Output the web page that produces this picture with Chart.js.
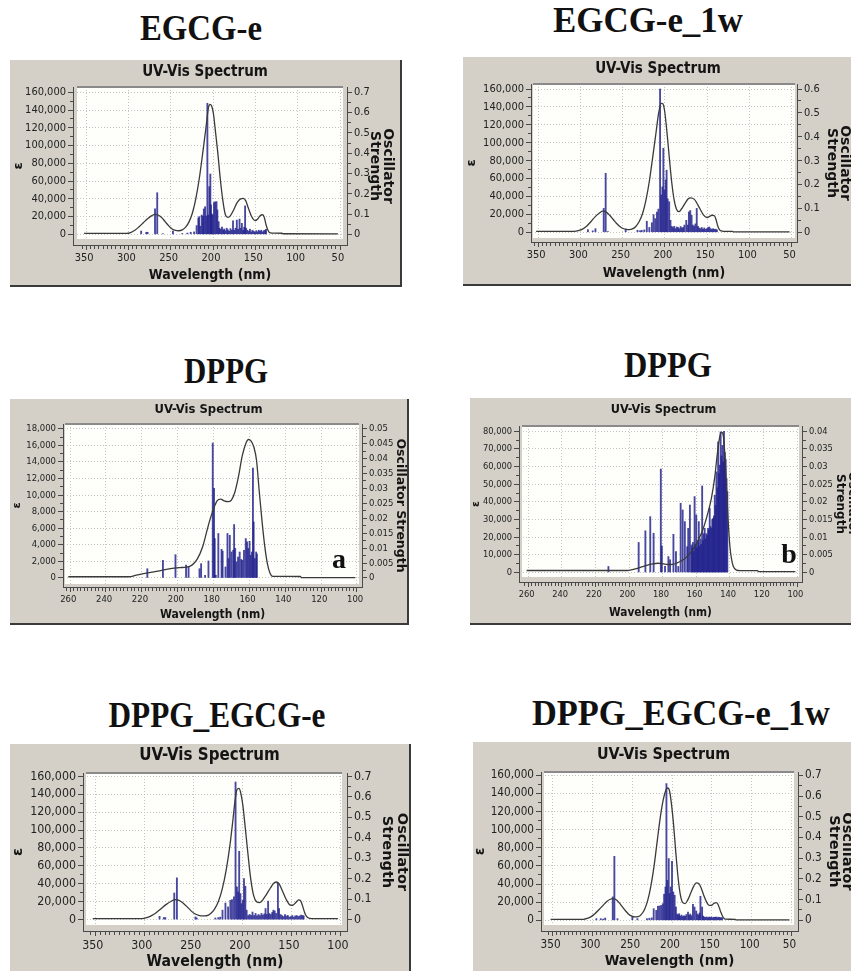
<!DOCTYPE html>
<html><head><meta charset="utf-8">
<script src="https://cdn.jsdelivr.net/npm/chart.js@4.4.1/dist/chart.umd.min.js"></script>
<style>
html,body{margin:0;padding:0;background:#fff;}
body{width:851px;height:971px;position:relative;overflow:hidden;}
.panel{position:absolute;background:#d4d0c8;}
.panel canvas{display:block;}
.head{position:absolute;width:400px;text-align:center;font-family:'Liberation Serif','Times New Roman',serif;font-weight:bold;line-height:1;color:#111;white-space:nowrap;}
.head span{display:inline-block;transform-origin:50% 50%;}
.tag{position:absolute;width:40px;text-align:center;font-family:'Liberation Serif','Times New Roman',serif;font-weight:bold;line-height:1;color:#111;z-index:5;}
</style></head><body>
<script>
// ---------- DATA ----------
// EGCG-e
const egcgE_curveNm  = [350,300,295,290,285,280,275,270,266,262,258,254,250,246,242,238,234,230,226,222,218,214,210,206,203,201,199,197,195,192,189,186,183,180,177,173,169,165,162,159,156,152,148,145,142,139,137,135,133,131,128,116,115,50];
const egcgE_curveEps = [1100,1100,2000,4500,8500,13000,17500,21000,22500,21500,18500,14000,9500,6000,4300,4000,5000,8000,14000,24000,40000,62000,90000,120000,143000,146500,144000,135000,118000,92000,62000,38000,22000,19000,21000,28000,36000,40000,40500,38000,30000,20000,15500,17000,21000,22000,19000,11000,5000,2000,1300,1200,600,500];
const egcgE_sticks = [[282.6,0.016],[276.5,0.01],[275,0.01],[266.2,0.125],[263.6,0.205],[257,0.003],[245,0.016],[234,0.004],[228,0.006],[224,0.01],[220,0.012],[217,0.043],[215,0.08],[214,0.087],[212.5,0.04],[211,0.095],[209.5,0.089],[208.5,0.125],[207,0.136],[205.5,0.09],[204.3,0.646],[203.3,0.095],[202,0.235],[200.8,0.297],[200,0.145],[199,0.1],[198,0.095],[196.5,0.156],[195,0.16],[193.5,0.161],[192.5,0.12],[191,0.062],[190,0.03],[188.5,0.025],[187,0.035],[185.5,0.02],[184.5,0.026],[183,0.018],[181.5,0.03],[180,0.022],[178.5,0.015],[177,0.028],[175.5,0.02],[174,0.066],[172.5,0.02],[171,0.03],[169.5,0.07],[168,0.025],[166.3,0.075],[165,0.03],[163.5,0.054],[162,0.02],[160.8,0.035],[159.7,0.14],[158.5,0.03],[157,0.02],[155.5,0.015],[154,0.025],[152.5,0.012],[151,0.02],[149.5,0.015],[148,0.01],[146.5,0.018],[145,0.012],[143.5,0.02],[142,0.015],[140.5,0.02],[139,0.012],[137.5,0.018],[136,0.02],[135,0.025]];

// EGCG-e_1w
const egcgE1w_curveNm  = [350,305,300,295,290,285,280,275,271,267,263,259,255,251,247,243,240,236,232,228,224,220,216,212,208,205,202,200,198,196,193,190,187,184,181,178,174,170,167,163,160,156,152,148,145,142,139,137,135,133,131,128,118,116,50];
const egcgE1w_curveEps = [1100,1100,1800,3500,7000,12000,17500,21500,23500,22500,19000,14500,10000,6500,4200,3200,3000,3800,6500,12000,21000,36000,57000,84000,112000,133000,144000,143500,136000,120000,90000,60000,38000,26000,23000,26000,32000,37500,38500,37000,33000,26000,19500,16500,17500,19000,18500,14000,7000,3000,1500,1100,1000,500,400];
const egcgE1w_sticks = [[288.7,0.011],[283,0.006],[279.8,0.015],[270,0.1],[267.7,0.247],[265,0.003],[244,0.013],[230,0.008],[227,0.006],[225,0.008],[222,0.01],[219,0.046],[216,0.02],[213,0.04],[211,0.074],[209,0.057],[207,0.085],[205.3,0.097],[203.3,0.6],[202,0.156],[200.6,0.19],[199.4,0.352],[198,0.177],[196.7,0.219],[195.6,0.26],[194.3,0.14],[192.5,0.128],[191,0.05],[189.5,0.025],[188,0.02],[186.5,0.025],[185,0.015],[183.5,0.022],[182,0.02],[180.5,0.015],[179,0.024],[177.5,0.018],[176,0.02],[174.5,0.03],[172.3,0.05],[170.5,0.03],[169.2,0.085],[167.6,0.091],[166,0.071],[164.5,0.03],[163,0.025],[161.5,0.035],[159.9,0.1],[158.5,0.025],[157,0.018],[155.5,0.015],[154,0.02],[152.5,0.012],[151,0.018],[149.5,0.012],[148,0.015],[146.5,0.02],[145,0.022],[143.5,0.015],[142,0.012],[140.5,0.015],[139,0.012],[137.5,0.013],[136,0.01]];

// DPPG (a)
const dppgA_curveNm  = [260,226,222,218,214,210,206,202,198,194,191,188,185,183,181,179,177,175,173,171,169,167,165,163,161,159.5,158,156.5,155,153.5,152,150.5,149,147.5,146,130.5,130,100];
const dppgA_curveEps = [150,150,350,520,680,820,1000,1150,1250,1300,1550,2300,3800,5400,7000,8300,9300,9500,9300,9200,9400,10400,12300,14700,16200,16700,16500,15800,14200,10500,7000,4000,1800,600,200,180,50,40];
const dppgA_sticks = [[215.9,0.0031],[207.2,0.0059],[200.2,0.0078],[194.3,0.0043],[192.9,0.0037],[186.8,0.0031],[185.9,0.0048],[183.7,0.0009],[181.8,0.0057],[179.4,0.0452],[178.7,0.030],[178.3,0.0132],[177.7,0.0009],[176.3,0.0149],[174.5,0.0096],[173.9,0.009],[172.3,0.0037],[171.2,0.0149],[170.6,0.0065],[169.9,0.0143],[169,0.0087],[168,0.0093],[167.5,0.0179],[166.9,0.0099],[166.2,0.0054],[165.3,0.007],[164.4,0.0087],[163.5,0.0062],[162.9,0.0059],[162,0.0093],[161,0.0132],[160.3,0.0121],[159.6,0.0099],[158.9,0.0123],[158.3,0.0076],[157.6,0.0087],[157,0.0368],[156.6,0.0188],[155.9,0.0065],[155.2,0.0087],[154.8,0.008]];

// DPPG (b)
const dppgB_curveNm  = [260,200,197,194,191,188,185,182,179,176,173,170,167,164,161,158,155,152,150,148,146.5,145,144,143,142,141,140,139,138,137,135,133,122.5,122,100];
const dppgB_curveEps = [1100,1100,1600,2300,3300,4200,4800,5200,5000,4500,4600,5600,7000,9500,13000,18000,24500,34000,42000,54000,67000,77000,79500,78000,67000,48000,29000,15000,7500,3500,1300,1000,1000,500,450];
const dppgB_sticks = [[211.3,0.0017],[193.3,0.0085],[189.3,0.0118],[186.4,0.0158],[184.4,0.0111],[180.1,0.0293],[179.5,0.0075],[177.6,0.0017],[175.6,0.0045],[174.6,0.0036],[172.6,0.0108],[171.1,0.0059],[169.7,0.0017],[168.3,0.0196],[167.1,0.0177],[165.8,0.0144],[164.4,0.0073],[163.8,0.0125],[162.8,0.0191],[161.8,0.0078],
 [161.5,0.007],[161,0.0085],[160.5,0.006],[160,0.0215],[159.5,0.008],[159,0.0163],[158.5,0.007],[158,0.009],[157.5,0.0144],[157,0.0075],[156.5,0.0095],[156,0.008],[155.5,0.0245],[155,0.009],[154.5,0.011],[154,0.0125],[153.5,0.0095],[153,0.011],[152.5,0.0105],[152,0.0125],[151.5,0.012],[151,0.0182],[150.5,0.013],[150,0.0125],[149.5,0.015],[149,0.0153],[148.5,0.016],[148,0.0219],[147.5,0.019],[147,0.0285],[146.5,0.024],[146,0.037],[145.5,0.028],[145,0.0304],[144.5,0.0398],[144,0.033],[143.5,0.036],[143,0.0313],[142.5,0.04],[142,0.034],[141.5,0.032],[141,0.0266],[140.5,0.0229]];

// DPPG_EGCG-e
const dpEg_curveNm  = [350,300,295,290,285,280,275,270,266,262,258,254,250,246,242,238,234,230,226,222,218,214,210,207,205,203,201,199,197,195,192,189,186,183,180,177,173,169,166,163,160,157,153,149,146,143,140,138,136,134,132,130,127,100];
const dpEg_curveEps = [1200,1200,2200,4500,8000,12500,17000,20500,22300,21500,18500,14500,10000,6500,4800,4100,4300,6500,11500,20000,34000,55000,84000,112000,132000,145000,146500,141000,128000,108000,76000,46000,27000,20000,19000,21500,28000,35000,40000,42000,40000,33000,23000,16500,16000,19000,22000,21000,15000,8000,3500,1800,1200,1000];
const dpEg_sticks = [[281.9,0.016],[277.5,0.01],[276,0.01],[266.9,0.13],[264.2,0.204],[245.3,0.013],[244,0.008],[225,0.008],[222,0.01],[220,0.012],[217.7,0.046],[214.7,0.081],[212,0.062],[209.7,0.094],[208,0.098],[206,0.111],[204.4,0.672],[203,0.16],[201.7,0.135],[200.7,0.334],[199.4,0.127],[198.4,0.078],[197,0.094],[195.8,0.2],[194.4,0.163],[193.1,0.046],[191.5,0.02],[190,0.025],[188.5,0.02],[187.1,0.037],[185.5,0.02],[184,0.03],[182.5,0.018],[181,0.025],[179.5,0.02],[178,0.03],[176.5,0.022],[175,0.028],[173.8,0.054],[172.5,0.025],[171.2,0.09],[170,0.03],[168.5,0.025],[167,0.035],[165.8,0.046],[164.5,0.042],[163,0.03],[161.2,0.179],[160,0.054],[158.5,0.025],[157,0.02],[155.5,0.015],[154,0.025],[152.5,0.018],[151,0.02],[149.5,0.012],[148,0.015],[146.5,0.02],[145,0.012],[143.5,0.018],[142,0.02],[140.5,0.015],[139,0.018],[137.5,0.022],[136,0.02],[135,0.018]];

// DPPG_EGCG-e_1w
const dpEg1w_curveNm  = [350,309,304,299,294,289,284,279,275,272,268,264,260,256,252,248,244,240,236,232,228,224,220,216,212,208,205,203,201,199,196,193,190,187,184,181,178,174,170,167,164,161,158,154,151,148,145,142,140,138,136,134,132,130,118,117,50];
const dpEg1w_curveEps = [1100,1100,2000,4000,7500,12000,16500,21000,23200,23900,23000,19500,15000,10500,6800,4600,3700,4000,6500,12000,22000,38000,60000,88000,115000,135000,144000,146000,144000,134000,110000,78000,48000,28000,19500,18500,22000,30000,38000,41200,40500,36000,28500,20000,16500,16500,18500,19500,18000,13500,8500,4500,2000,1200,1100,400,400];
const dpEg1w_sticks = [[292.5,0.008],[287,0.008],[284,0.006],[281.4,0.011],[271.9,0.113],[269.9,0.309],[266,0.008],[247.3,0.016],[241,0.008],[229,0.008],[226,0.01],[223,0.012],[220.5,0.056],[217.3,0.048],[215.2,0.068],[213.1,0.069],[211.1,0.072],[209,0.08],[207.4,0.126],[205.7,0.161],[204.5,0.66],[203.3,0.193],[201.6,0.298],[200.4,0.129],[199.2,0.161],[197.5,0.285],[195.9,0.137],[194.2,0.121],[192.6,0.064],[191,0.03],[189.5,0.025],[188.5,0.032],[187,0.02],[185.5,0.025],[184,0.018],[182.5,0.022],[181,0.02],[179.5,0.028],[177.4,0.04],[176,0.025],[174.5,0.03],[173,0.022],[171.2,0.077],[169.2,0.064],[167.1,0.045],[165.5,0.03],[164,0.025],[162.8,0.035],[161.8,0.116],[159.7,0.064],[158.5,0.02],[157,0.016],[155.5,0.014],[154,0.016],[152.5,0.012],[151,0.015],[149.5,0.014],[148,0.016],[146.5,0.012],[145,0.015],[143.5,0.014],[142,0.016],[140.5,0.013],[139,0.015],[137.5,0.014],[136,0.012],[134.5,0.013]];

// ---------- TEXT ----------
const headings = [
  {text:'EGCG-e', cx:201, base:40, size:36, w:122},
  {text:'EGCG-e_1w', cx:648, base:32, size:36, w:190},
  {text:'DPPG', cx:226, base:383, size:36, w:84},
  {text:'DPPG', cx:668, base:377, size:36, w:88},
  {text:'DPPG_EGCG-e', cx:217, base:727, size:36, w:217},
  {text:'DPPG_EGCG-e_1w', cx:681, base:725, size:36, w:298}
];
const tags = [{text:'a', cx:339, base:568, size:28},{text:'b', cx:789, base:563, size:28}];

// ---------- LAYOUT / STYLE ----------
const COND = "'DejaVu Sans Condensed','DejaVu Sans',sans-serif";
const SANS = "'DejaVu Sans',sans-serif";
const PANEL = '#d4d0c8', PLOT = '#fefefa', GRID = '#c4c4c4', AX = '#4a4a4a';

const panels = [
  {curveNm:egcgE_curveNm, curveEps:egcgE_curveEps, sticks:egcgE_sticks,
   box:[10,60,390,225], bR:true, bB:true, ca:[73,347,87,245], inset:[4,4,6], fs:1.0,
   titleY:72, xTitleY:275, epsX:19, r2:{lines:['Oscillator','Strength'], x:388, size:14, lh:13},
   x:{min:41.9,max:360.5,from:50,to:350,minor:5,major:50},
   y:{min:-12057,max:165972,to:160000,minor:10000,major:20000},
   y2:{to:0.7,minor:0.05,major:0.1}},
  {curveNm:egcgE1w_curveNm, curveEps:egcgE1w_curveEps, sticks:egcgE1w_sticks,
   box:[463,57,390,227], bR:false, bB:true, ca:[531,797,84,242], inset:[2,2,4], fs:1.0,
   titleY:69, xTitleY:273, epsX:472, r2:{lines:['Oscillator','Strength'], x:845, size:14, lh:13},
   x:{min:43.8,max:353.5,from:50,to:350,minor:5,major:50},
   y:{min:-10876,max:165606,to:160000,minor:10000,major:20000},
   y2:{to:0.6,minor:0.05,major:0.1}},
  {curveNm:dppgA_curveNm, curveEps:dppgA_curveEps, sticks:dppgA_sticks,
   box:[10,399,397,224], bR:true, bB:true, ca:[63,362,424,587], inset:[2,3,3], fs:0.86,
   titleY:410, xTitleY:615, epsX:17, r2:{lines:'Oscillator Strength', x:400, size:12.5, lh:12.5},
   x:{min:97.2,max:261.9,from:100,to:260,minor:2,major:20},
   y:{min:-1089,max:18569,to:18000,minor:1000,major:2000},
   y2:{to:0.05,minor:0.0025,major:0.005}},
  {curveNm:dppgB_curveNm, curveEps:dppgB_curveEps, sticks:dppgB_sticks,
   box:[470,398,387,225], bR:false, bB:true, ca:[519,802,426,582], inset:[3,3,5], fs:0.84,
   titleY:410, xTitleY:613, epsX:476, r2:{lines:['Oscillator','Strength'], x:852, size:12, lh:12},
   x:{min:97.1,max:263.5,from:100,to:260,minor:2,major:20},
   y:{min:-5420,max:82992,to:80000,minor:5000,major:10000},
   y2:{to:0.04,minor:0.0025,major:0.005}},
  {curveNm:dpEg_curveNm, curveEps:dpEg_curveEps, sticks:dpEg_sticks,
   box:[10,744,399,235], bR:true, bB:false, ca:[83,347,773,931], inset:[3,5,6], fs:1.12,
   titleY:756, xTitleY:962, epsX:18, r2:{lines:['Oscillator','Strength'], x:402, size:14.5, lh:15},
   x:{min:93.4,max:357.3,from:100,to:350,minor:5,major:50},
   y:{min:-12728,max:163684,to:160000,minor:10000,major:20000},
   y2:{to:0.7,minor:0.05,major:0.1}},
  {curveNm:dpEg1w_curveNm, curveEps:dpEg1w_curveEps, sticks:dpEg1w_sticks,
   box:[473,742,381,235], bR:false, bB:false, ca:[541,798,772,931], inset:[3,4,6], fs:1.06,
   titleY:755, xTitleY:961, epsX:480, r2:{lines:['Oscillator','Strength'], x:847, size:14.5, lh:13},
   x:{min:41.9,max:359.4,from:50,to:350,minor:5,major:50},
   y:{min:-11806,max:163641,to:160000,minor:10000,major:20000},
   y2:{to:0.7,minor:0.05,major:0.1}}
];

// ---------- HELPERS ----------
function tickValues(from, to, step){ const out=[]; const n=Math.round((to-from)/step); for(let i=0;i<=n;i++) out.push(+(from+i*step).toFixed(6)); return out; }
function isMajor(v, major){ const q=v/major; return Math.abs(q-Math.round(q))<1e-6; }
const CLEAR='rgba(0,0,0,0)';

headings.forEach(h=>{
  const d=document.createElement('div'); d.className='head';
  const sp=document.createElement('span'); sp.textContent=h.text; d.appendChild(sp);
  d.style.fontSize=h.size+'px'; d.style.left=(h.cx-200)+'px'; d.style.top=(h.base-0.8375*h.size)+'px';
  document.body.appendChild(d);
  const nat=sp.getBoundingClientRect().width;
  if(nat>0) sp.style.transform='scaleX('+(h.w/nat).toFixed(3)+')';
});

Chart.defaults.font.family = COND;

panels.forEach(p=>{
  const [bx,by,bw,bh]=p.box;
  const div=document.createElement('div'); div.className='panel';
  Object.assign(div.style,{left:bx+'px',top:by+'px',width:bw+'px',height:bh+'px'});
  if(p.bR) div.style.borderRight='2px solid #3a3a3a';
  if(p.bB) div.style.borderBottom='2px solid #3a3a3a';
  const cv=document.createElement('canvas'); cv.width=bw; cv.height=bh; div.appendChild(cv);
  document.body.appendChild(div);

  const s=p.fs;
  const [cl,cr,ct,cb]=p.ca;
  const leftW=cl-bx, rightW=bx+bw-cr, topH=ct-by, botH=by+bh-cb;
  const tSize=15*s, tPadTop=p.titleY-by-tSize/2, tPadBot=topH-tSize-tPadTop;
  const xtSize=14*s, xtPadBot=(by+bh-p.xTitleY)-xtSize/2;
  const eSize=13*s, ePad=(p.epsX-bx)-eSize/2;
  const r2Pad=(bx+bw-p.r2.x)-p.r2.lh/2;
  const ratio=p.y2.to/p.y.to;
  const tickFont={family:COND,size:11*s};

  const minorDash=(major,left)=>(c)=>(c.tick&&isMajor(c.tick.value,major))?[]:(left?[3,2]:[3,20]);
  const minorOff=(major,left)=>(c)=>(c.tick&&isMajor(c.tick.value,major))?0:(left?3:0);

  const plotBg={
    id:'plotBg',
    beforeDraw(chart){
      const a=chart.chartArea, ctx=chart.ctx, [il,ir,ib]=p.inset;
      ctx.save(); ctx.fillStyle=PLOT;
      ctx.fillRect(a.left+il,a.top,a.right-a.left-il-ir,a.bottom-a.top-ib);
      ctx.restore();
    },
    beforeDatasetsDraw(chart){
      const a=chart.chartArea, ctx=chart.ctx, [il,ir,ib]=p.inset;
      ctx.save(); ctx.fillStyle=PANEL;
      ctx.fillRect(a.left+1,a.top,il-1,a.bottom-a.top);
      ctx.fillRect(a.right-ir,a.top,ir,a.bottom-a.top);
      ctx.fillRect(a.left+1,a.bottom-ib,a.right-a.left-1,ib);
      ctx.fillStyle='#8a8a8a';
      ctx.fillRect(a.left+il,a.top-1,a.right-a.left-il-ir,2);
      ctx.restore();
    }
  };

  new Chart(cv,{
    type:'line',
    data:{datasets:[
      {type:'line', data:p.curveNm.map((x,i)=>({x, y:p.curveEps[i]})), yAxisID:'y', borderColor:'#3a3a3a', borderWidth:1.3,
       pointRadius:0, cubicInterpolationMode:'monotone', fill:false, order:0},
      {type:'bar', data:p.sticks.map(d=>({x:d[0], y:d[1]})), yAxisID:'y2', backgroundColor:'rgba(32,32,140,0.82)',
       barThickness:1.2, grouped:false, borderWidth:0, order:1}
    ]},
    options:{
      responsive:false, animation:false, devicePixelRatio:1,
      layout:{padding:0},
      plugins:{
        legend:{display:false}, tooltip:{enabled:false},
        title:{display:true, text:'UV-Vis Spectrum', color:'#141414', font:{family:COND,size:tSize,weight:'bold',lineHeight:1}, padding:{top:tPadTop,bottom:tPadBot}}
      },
      scales:{
        x:{type:'linear', position:'bottom', reverse:true, min:p.x.min, max:p.x.max, bounds:'data',
          afterBuildTicks:(a)=>{a.ticks=tickValues(p.x.from,p.x.to,p.x.minor).map(v=>({value:v}));},
          afterFit:(a)=>{a.height=botH;},
          ticks:{autoSkip:false, maxRotation:0, minRotation:0, padding:2, color:'#222', font:tickFont,
            callback:(v)=>isMajor(v,p.x.major)?String(Math.round(v)):''},
          grid:{color:(c)=>(c.tick&&isMajor(c.tick.value,p.x.major))?GRID:CLEAR, lineWidth:1, drawTicks:true, tickLength:5, tickColor:AX, tickWidth:1,
            tickBorderDash:minorDash(p.x.major,false), tickBorderDashOffset:0},
          border:{display:true,color:AX,width:1,dash:[1,2]},
          title:{display:true,text:'Wavelength (nm)',color:'#141414',font:{family:COND,size:xtSize,weight:'bold',lineHeight:1},padding:{top:0,bottom:xtPadBot}}
        },
        y:{type:'linear', position:'left', min:p.y.min, max:p.y.max, bounds:'data',
          afterBuildTicks:(a)=>{a.ticks=tickValues(0,p.y.to,p.y.minor).map(v=>({value:v}));},
          afterFit:(a)=>{a.width=leftW;},
          ticks:{autoSkip:false, padding:2, color:'#222', font:tickFont,
            callback:(v)=>isMajor(v,p.y.major)?Math.round(v).toLocaleString('en-US'):''},
          grid:{color:(c)=>(c.tick&&isMajor(c.tick.value,p.y.major))?GRID:CLEAR, lineWidth:1, drawTicks:true, tickLength:5, tickColor:AX, tickWidth:1,
            tickBorderDash:minorDash(p.y.major,true), tickBorderDashOffset:minorOff(p.y.major,true)},
          border:{display:true,color:AX,width:1,dash:[1,2]},
          title:{display:true,text:'ε',color:'#141414',font:{family:SANS,size:eSize,weight:'bold',lineHeight:1},padding:{top:ePad,bottom:0}}
        },
        y2:{type:'linear', position:'right', min:p.y.min*ratio, max:p.y.max*ratio, bounds:'data',
          afterBuildTicks:(a)=>{a.ticks=tickValues(0,p.y2.to,p.y2.minor).map(v=>({value:v}));},
          afterFit:(a)=>{a.width=rightW;},
          ticks:{autoSkip:false, padding:2, color:'#222', font:tickFont,
            callback:(v)=>isMajor(v,p.y2.major)?String(+v.toFixed(4)):''},
          grid:{drawOnChartArea:false, drawTicks:true, tickLength:5, tickColor:AX, tickWidth:1,
            tickBorderDash:minorDash(p.y2.major,false), tickBorderDashOffset:0},
          border:{display:true,color:AX,width:1},
          title:{display:true,text:p.r2.lines,color:'#141414',font:{family:SANS,size:p.r2.size,weight:'bold',lineHeight:p.r2.lh/p.r2.size},padding:{top:r2Pad,bottom:0}}
        }
      }
    },
    plugins:[plotBg]
  });
});

tags.forEach(t=>{
  const d=document.createElement('div'); d.className='tag'; d.textContent=t.text;
  d.style.fontSize=t.size+'px'; d.style.left=(t.cx-20)+'px'; d.style.top=(t.base-0.8375*t.size)+'px';
  document.body.appendChild(d);
});
</script>
</body></html>
